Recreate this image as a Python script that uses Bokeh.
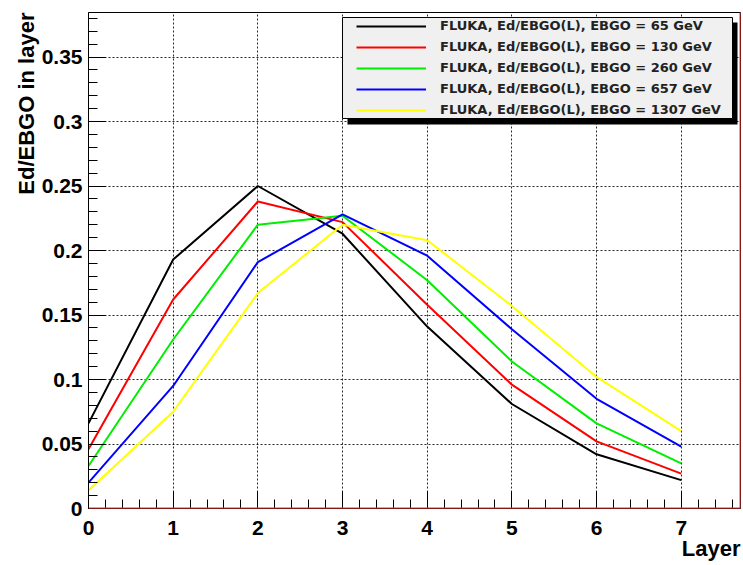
import math
from bokeh.plotting import figure
from bokeh.models import (Range1d, FixedTicker, Legend, LegendItem, BoxAnnotation,
                          Span, Title)
from bokeh.embed import file_html
from bokeh.resources import INLINE

# ---- data ----
layers = [0, 1, 2, 3, 4, 5, 6, 7]
e65 = [0.066, 0.193, 0.250, 0.213, 0.141, 0.081, 0.042, 0.022]
e130 = [0.046, 0.162, 0.238, 0.222, 0.158, 0.096, 0.052, 0.027]
e260 = [0.033, 0.131, 0.220, 0.227, 0.177, 0.114, 0.066, 0.035]
e657 = [0.020, 0.095, 0.191, 0.228, 0.196, 0.139, 0.085, 0.048]
e1307 = [0.014, 0.075, 0.167, 0.220, 0.208, 0.157, 0.102, 0.060]
labels = [
    "FLUKA, Ed/EBGO(L), EBGO = 65 GeV",
    "FLUKA, Ed/EBGO(L), EBGO = 130 GeV",
    "FLUKA, Ed/EBGO(L), EBGO = 260 GeV",
    "FLUKA, Ed/EBGO(L), EBGO = 657 GeV",
    "FLUKA, Ed/EBGO(L), EBGO = 1307 GeV",
]
colors = ["#000000", "#ff0000", "#00ee00", "#0000ff", "#ffff00"]
x_ticks = [0, 1, 2, 3, 4, 5, 6, 7]
y_ticks = [0, 0.05, 0.1, 0.15, 0.2, 0.25, 0.3, 0.35]
y_tick_labels = ["0", "0.05", "0.1", "0.15", "0.2", "0.25", "0.3", "0.35"]
x_title = "Layer"
y_title = "Ed/EBGO in layer"
X_MAX = 7.7
Y_MAX = 0.3845

W, H = 743, 565
L, T, R, B = 88, 12, 3, 57
FW = W - L - R
FH = H - T - B


def px2x(px):
    return (px - L) / FW * X_MAX


def py2y(py):
    return (T + FH - py) / FH * Y_MAX


p = figure(width=W, height=H, output_backend="svg", toolbar_location=None,
           x_range=Range1d(0, X_MAX), y_range=Range1d(0, Y_MAX),
           min_border_left=L, min_border_top=T, min_border_right=R,
           min_border_bottom=B)
p.outline_line_color = "black"
p.outline_line_width = 1
p.background_fill_color = "white"
p.border_fill_color = "white"

tick_font = "Liberation Sans"
for ax in (p.xaxis[0], p.yaxis[0]):
    ax.major_tick_in = 17
    ax.major_tick_out = 0
    ax.minor_tick_in = 9
    ax.minor_tick_out = 0
    ax.axis_line_color = "black"
    ax.major_tick_line_color = "black"
    ax.minor_tick_line_color = "black"
    ax.major_label_text_font = tick_font
    ax.major_label_text_font_style = "bold"
    ax.major_label_text_font_size = "21px"
    ax.major_label_text_color = "black"

p.xaxis[0].ticker = FixedTicker(ticks=x_ticks,
                                minor_ticks=[i * 0.2 for i in range(0, 39)])
p.xaxis[0].major_label_standoff = 12
p.yaxis[0].ticker = FixedTicker(ticks=y_ticks,
                                minor_ticks=[i * 0.01 for i in range(0, 39)])
p.yaxis[0].major_label_overrides = {t: s for t, s in zip(y_ticks, y_tick_labels)}
p.yaxis[0].major_label_standoff = 6

# axis titles as side titles aligned to the far end
p.add_layout(Title(text=x_title, align="right", text_font=tick_font,
                   text_font_style="bold", text_font_size="22px",
                   text_color="black", standoff=-8), "below")
p.add_layout(Title(text=y_title, align="right", text_font=tick_font,
                   text_font_style="bold", text_font_size="22px",
                   text_color="black", standoff=0), "left")

for g in (p.xgrid[0], p.ygrid[0]):
    g.grid_line_color = "black"
    g.grid_line_dash = "2 2"
    g.grid_line_width = 1
    g.grid_line_alpha = 0.85
p.xgrid[0].ticker = p.xaxis[0].ticker
p.ygrid[0].ticker = p.yaxis[0].ticker

series = [e65, e130, e260, e657, e1307]
renderers = []
for ys, c in zip(series, colors):
    r = p.line(layers, ys, line_color=c, line_width=2)
    renderers.append(r)

# red histogram frame lines
p.add_layout(Span(location=0, dimension="width", line_color="#ff3030", line_width=2))
p.add_layout(Span(location=X_MAX, dimension="height", line_color="#ff3030", line_width=2))

# legend shadow and box
p.add_layout(BoxAnnotation(left=px2x(347), right=px2x(737), top=py2y(22), bottom=py2y(124),
                           fill_color="black", fill_alpha=1, line_alpha=0))
p.add_layout(BoxAnnotation(left=px2x(342), right=px2x(732), top=py2y(17), bottom=py2y(118),
                           fill_color="#f0f0f0", fill_alpha=1, line_color="black",
                           line_width=1, line_alpha=1))

legend = Legend(items=[LegendItem(label=lb, renderers=[r]) for lb, r in zip(labels, renderers)],
                location=(356 - L, T + FH - 117),
                padding=0, margin=0, spacing=6, label_height=14, glyph_height=14,
                glyph_width=70, label_standoff=14,
                background_fill_alpha=0, border_line_alpha=0,
                label_text_font="DejaVu Sans", label_text_font_style="bold",
                label_text_font_size="13px", label_text_color="#222222")
p.add_layout(legend, "center")

open("out.html", "w").write(file_html(p, INLINE))
